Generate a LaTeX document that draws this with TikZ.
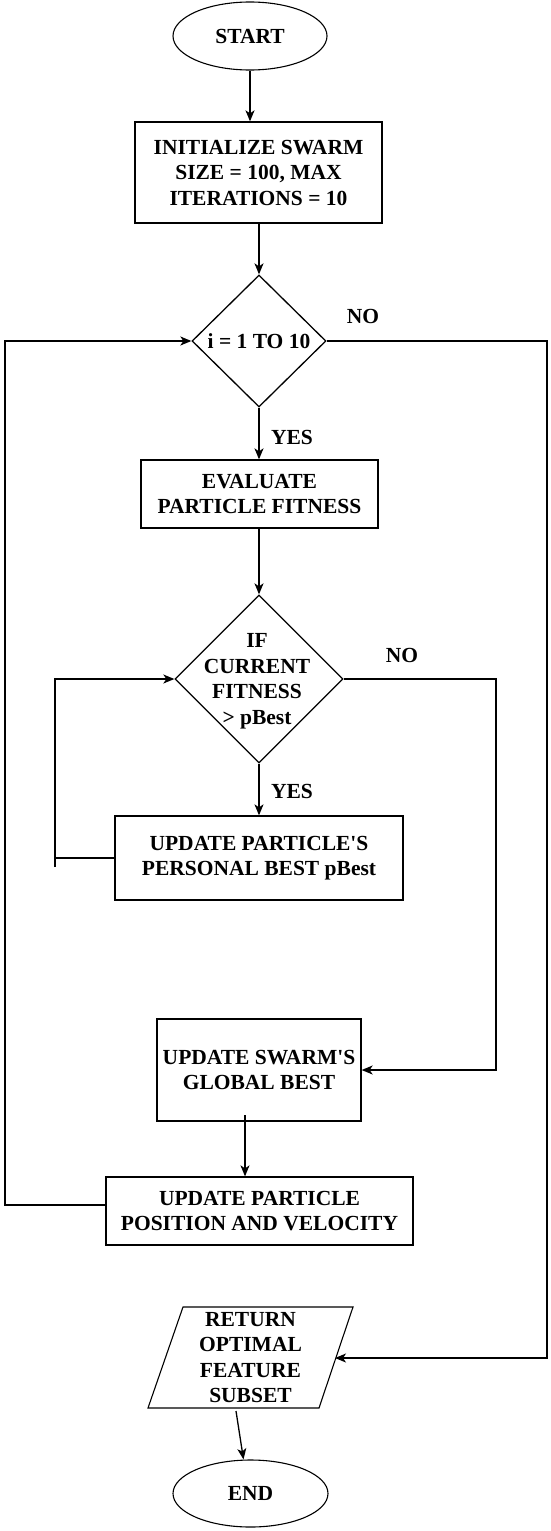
\documentclass[tikz,border=0pt]{standalone}
\usepackage{fontspec}
\setmainfont{Liberation Serif}[Ligatures=TeXOff]
\usetikzlibrary{shapes.geometric,arrows.meta}
\begin{document}
\begin{tikzpicture}[x=1pt,y=-1pt,
  every node/.style={font=\fontsize{21.5}{25.5}\selectfont\bfseries, inner sep=0pt, text=black},
  box/.style={draw, line width=1.3pt, rectangle, align=center},
  term/.style={draw, line width=1.1pt, ellipse},
  decision/.style={draw, line width=1.3pt, diamond},
  lbl/.style={align=center},
  conn/.style={line width=1.3pt, -{Stealth[length=11pt,width=9pt,inset=3pt]}},
  plain/.style={line width=1.3pt}]
\useasboundingbox (0,0) rectangle (550,1531);

% nodes
\node[term, minimum width=154pt, minimum height=68pt] (start) at (250,36) {START};
\node[box, minimum width=247pt, minimum height=101pt] (init) at (258.5,172.5)
  {INITIALIZE SWARM\\SIZE = 100, MAX\\ITERATIONS = 10};
\node[decision, minimum width=134pt, minimum height=132pt] (d1) at (259,341) {};
\node[lbl] (d1t) at (d1.center) {i = 1 TO 10};
\node[box, minimum width=237pt, minimum height=68pt] (eval) at (259.5,494)
  {EVALUATE\\PARTICLE FITNESS};
\node[decision, minimum width=168pt, minimum height=168pt] (d2) at (259,679) {};
\node[lbl] (d2t) at (257,681) {IF\\CURRENT\\FITNESS\\> pBest};
\node[box, minimum width=288pt, minimum height=84pt] (pb) at (259,858)
  {UPDATE PARTICLE'S\\PERSONAL BEST pBest};
\node[box, minimum width=204pt, minimum height=102pt] (gb) at (259,1070)
  {UPDATE SWARM'S\\GLOBAL BEST};
\node[box, minimum width=307pt, minimum height=68pt] (pv) at (259.5,1211)
  {UPDATE PARTICLE\\POSITION AND VELOCITY};
\draw[line width=1.1pt] (148,1408) -- (319,1408) -- (353,1307) -- (183,1307) -- cycle;
\node[lbl] (ret) at (250.5,1357.5) {RETURN\\OPTIMAL\\FEATURE\\SUBSET};
\node[term, minimum width=155pt, minimum height=67pt] (end) at (250.5,1493.5) {END};

% labels
\node (no1) at (363,316) {NO};
\node (yes1) at (292,437) {YES};
\node (no2) at (402,655) {NO};
\node (yes2) at (292,791) {YES};

% helper coordinates
\coordinate (r1) at (547,0);
\coordinate (r2) at (496,0);
\coordinate (l1) at (5,0);
\coordinate (l2) at (55,867);
\coordinate (rin) at (335,1358);
\coordinate (rout) at (236,1411);
\coordinate (g1) at (245,1115);

% connectors
\draw[conn] (start.south) -- (start.south |- init.north);
\draw[conn] (init.south -| d1.north) -- (d1.north);
\draw[conn] (d1.south) -- (d1.south |- eval.north);
\draw[conn] (eval.south -| d2.north) -- (d2.north);
\draw[conn] (d2.south) -- (d2.south |- pb.north);
\draw[plain] (pb.west) -- (l2 |- pb.west);
\draw[conn] (l2) |- (d2.west);
\draw[conn] (d2.east) -| (r2 |- gb.east) -- (gb.east);
\draw[conn] (g1) -- (g1 |- pv.north);
\draw[conn] ([yshift=6pt]pv.west) -| (l1 |- d1.west) -- (d1.west);
\draw[conn] (d1.east) -| (r1 |- rin) -- (rin);
\draw[conn] (rout) -- ([xshift=-7pt]end.north);
\end{tikzpicture}
\end{document}
